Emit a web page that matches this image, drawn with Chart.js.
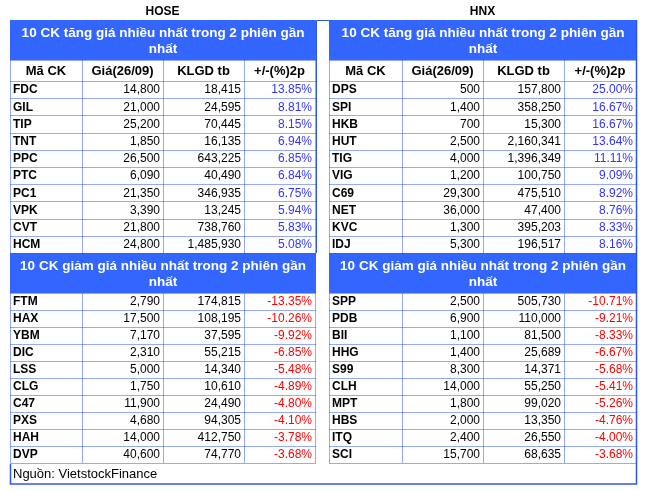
<!DOCTYPE html>
<html>
<head>
<meta charset="utf-8">
<script src="https://cdn.jsdelivr.net/npm/chart.js@4.4.1/dist/chart.umd.min.js"></script>
<style>
    html, body { margin: 0; padding: 0; background: #fff; }
    #khung { width: 646px; height: 490px; }
</style>
</head>
<body>
<div id="khung"><canvas id="bangCK" width="646" height="490"></canvas></div>
<script>
// ---- Dữ liệu ----
const SAN = ['HOSE', 'HNX'];
const CAC_COT = ['Mã CK', 'Giá(26/09)', 'KLGD tb', '+/-(%)2p'];
const TIEU_DE_TANG = '10 CK tăng giá nhiều nhất trong 2 phiên gần nhất';
const TIEU_DE_GIAM = '10 CK giảm giá nhiều nhất trong 2 phiên gần nhất';
const NGUON = 'Nguồn: VietstockFinance';

const hoseTangMa = ['FDC', 'GIL', 'TIP', 'TNT', 'PPC', 'PTC', 'PC1', 'VPK', 'CVT', 'HCM'];
const hoseTangGia = [14800, 21000, 25200, 1850, 26500, 6090, 21350, 3390, 21800, 24800];
const hoseTangKL = [18415, 24595, 70445, 16135, 643225, 40490, 346935, 13245, 738760, 1485930];
const hoseTangPct = [13.85, 8.81, 8.15, 6.94, 6.85, 6.84, 6.75, 5.94, 5.83, 5.08];

const hnxTangMa = ['DPS', 'SPI', 'HKB', 'HUT', 'TIG', 'VIG', 'C69', 'NET', 'KVC', 'IDJ'];
const hnxTangGia = [500, 1400, 700, 2500, 4000, 1200, 29300, 36000, 1300, 5300];
const hnxTangKL = [157800, 358250, 15300, 2160341, 1396349, 100750, 475510, 47400, 395203, 196517];
const hnxTangPct = [25.00, 16.67, 16.67, 13.64, 11.11, 9.09, 8.92, 8.76, 8.33, 8.16];

const hoseGiamMa = ['FTM', 'HAX', 'YBM', 'DIC', 'LSS', 'CLG', 'C47', 'PXS', 'HAH', 'DVP'];
const hoseGiamGia = [2790, 17500, 7170, 2310, 5000, 1750, 11900, 4680, 14000, 40600];
const hoseGiamKL = [174815, 108195, 37595, 55215, 14340, 10610, 24490, 94305, 412750, 74770];
const hoseGiamPct = [-13.35, -10.26, -9.92, -6.85, -5.48, -4.89, -4.80, -4.10, -3.78, -3.68];

const hnxGiamMa = ['SPP', 'PDB', 'BII', 'HHG', 'S99', 'CLH', 'MPT', 'HBS', 'ITQ', 'SCI'];
const hnxGiamGia = [2500, 6900, 1100, 1400, 8300, 14000, 1800, 2000, 2400, 15700];
const hnxGiamKL = [505730, 110000, 81500, 25689, 14371, 55250, 99020, 13350, 26550, 68635];
const hnxGiamPct = [-10.71, -9.21, -8.33, -6.67, -5.68, -5.41, -5.26, -4.76, -4.00, -3.68];

// ---- Bố cục (đơn vị của trục) ----
const COT_TRAI = [10, 82, 163, 244, 315];
const COT_PHAI = [329, 402, 483, 564, 636];
const TANG_Y = { tieuDe: 20, cot: 60, dong: 81, cao: 17.2 };
const GIAM_Y = { tieuDe: 253, dong: 293, cao: 17 };
const CAO_TIEU_DE = 40;
const DAY = 484;

const XANH = '#3366ff';
const VIEN = '#2f55f0';

function soDep(v) {
    return v.toLocaleString('en-US');
}

function ngatDong(ctx, text, maxW) {
    const tu = text.split(' ');
    const dong = [];
    let hienTai = '';
    tu.forEach(t => {
        const thu = hienTai ? hienTai + ' ' + t : t;
        if (ctx.measureText(thu).width > maxW && hienTai) {
            dong.push(hienTai);
            hienTai = t;
        } else {
            hienTai = thu;
        }
    });
    dong.push(hienTai);
    return dong;
}

function netCham(ctx, x1, y1, x2, y2) {
    ctx.beginPath();
    ctx.moveTo(Math.round(x1) + 0.5, Math.round(y1) + 0.5);
    ctx.lineTo(Math.round(x2) + 0.5, Math.round(y2) + 0.5);
    ctx.stroke();
}

const veBang = {
    id: 'veBang',
    afterDraw(chart) {
        const ctx = chart.ctx;
        const sx = chart.scales.x;
        const sy = chart.scales.y;
        const X = v => sx.getPixelForValue(v);
        const Y = v => sy.getPixelForValue(v);

        ctx.save();
        ctx.fillStyle = '#fff';
        ctx.fillRect(0, 0, chart.width, chart.height);

        const bang = [
            { cot: COT_TRAI, san: SAN[0], tang: [hoseTangMa, hoseTangGia, hoseTangKL, hoseTangPct], giam: [hoseGiamMa, hoseGiamGia, hoseGiamKL, hoseGiamPct] },
            { cot: COT_PHAI, san: SAN[1], tang: [hnxTangMa, hnxTangGia, hnxTangKL, hnxTangPct], giam: [hnxGiamMa, hnxGiamGia, hnxGiamKL, hnxGiamPct] }
        ];

        bang.forEach(b => {
            const c = b.cot;
            const trai = X(c[0]), phai = X(c[4]) + 1;

            // tên sàn
            ctx.fillStyle = '#000';
            ctx.font = 'bold 12px "Liberation Sans", Arial, sans-serif';
            ctx.textAlign = 'center';
            ctx.textBaseline = 'middle';
            ctx.fillText(b.san, (X(c[0]) + X(c[4])) / 2, Y(12));

            // thanh tiêu đề xanh
            [[TIEU_DE_TANG, TANG_Y.tieuDe], [TIEU_DE_GIAM, GIAM_Y.tieuDe]].forEach(([tieuDe, y0]) => {
                ctx.fillStyle = XANH;
                ctx.fillRect(trai, Y(y0), phai - trai, Y(y0 + CAO_TIEU_DE) - Y(y0));
                ctx.fillStyle = '#fff';
                ctx.font = 'bold 13.5px "Liberation Sans", Arial, sans-serif';
                const dong = ngatDong(ctx, tieuDe, phai - trai - 16);
                dong.forEach((d, i) => {
                    ctx.fillText(d, (trai + phai) / 2, Y(y0 + 13 + i * 16));
                });
            });

            // hàng tên cột
            ctx.fillStyle = '#000';
            ctx.font = 'bold 13px "Liberation Sans", Arial, sans-serif';
            CAC_COT.forEach((ten, j) => {
                ctx.fillText(ten, (X(c[j]) + X(c[j + 1])) / 2, Y((TANG_Y.cot + TANG_Y.dong) / 2 + 1));
            });

            // các dòng dữ liệu
            const veDong = (cols, y0, cao) => {
                cols[0].forEach((ma, i) => {
                    const yc = Y(y0 + cao * (i + 0.5) + 0.5);
                    ctx.textAlign = 'left';
                    ctx.fillStyle = '#000';
                    ctx.font = 'bold 12px "Liberation Sans", Arial, sans-serif';
                    ctx.fillText(ma, X(c[0]) + 3, yc);
                    ctx.textAlign = 'right';
                    ctx.font = '12px "Liberation Sans", Arial, sans-serif';
                    ctx.fillText(soDep(cols[1][i]), X(c[2]) - 3, yc);
                    ctx.fillText(soDep(cols[2][i]), X(c[3]) - 3, yc);
                    const p = cols[3][i];
                    ctx.fillStyle = p < 0 ? '#ff0000' : '#3333ff';
                    ctx.fillText(p.toFixed(2) + '%', X(c[4]) - 3, yc);
                });
            };
            veDong(b.tang, TANG_Y.dong, TANG_Y.cao);
            veDong(b.giam, GIAM_Y.dong, GIAM_Y.cao);

            // lưới chấm
            ctx.strokeStyle = VIEN;
            ctx.lineWidth = 1;
            ctx.setLineDash([1, 1]);
            const yTangCuoi = TANG_Y.dong + TANG_Y.cao * 10;
            const yGiamCuoi = GIAM_Y.dong + GIAM_Y.cao * 10;
            c.forEach(xc => {
                netCham(ctx, X(xc), Y(TANG_Y.cot), X(xc), Y(GIAM_Y.tieuDe));
                netCham(ctx, X(xc), Y(GIAM_Y.dong), X(xc), Y(yGiamCuoi));
            });
            for (let i = 0; i <= 10; i++) {
                netCham(ctx, X(c[0]), Y(TANG_Y.dong + TANG_Y.cao * i), X(c[4]), Y(TANG_Y.dong + TANG_Y.cao * i));
                netCham(ctx, X(c[0]), Y(GIAM_Y.dong + GIAM_Y.cao * i), X(c[4]), Y(GIAM_Y.dong + GIAM_Y.cao * i));
            }
            netCham(ctx, X(c[0]), Y(TANG_Y.cot), X(c[4]), Y(TANG_Y.cot));
            ctx.setLineDash([]);
        });

        // nguồn
        ctx.fillStyle = '#000';
        ctx.textAlign = 'left';
        ctx.font = '13px "Liberation Sans", Arial, sans-serif';
        ctx.fillText(NGUON, X(13), Y(474));

        // khung ngoài
        ctx.strokeStyle = VIEN;
        ctx.lineWidth = 1.5;
        ctx.beginPath();
        ctx.moveTo(X(10) + 0.5, Y(464));
        ctx.lineTo(X(10) + 0.5, Y(DAY));
        ctx.lineTo(X(636) + 0.5, Y(DAY));
        ctx.lineTo(X(636) + 0.5, Y(20));
        ctx.stroke();
        ctx.lineWidth = 1;
        ctx.beginPath();
        ctx.moveTo(X(316) + 0.5, Y(253));
        ctx.lineTo(X(316) + 0.5, Y(20) + 0.5);
        ctx.lineTo(X(329) + 0.5, Y(20) + 0.5);
        ctx.stroke();
        ctx.restore();
    }
};

new Chart(document.getElementById('bangCK'), {
    type: 'scatter',
    data: { datasets: [] },
    options: {
        responsive: false,
        animation: false,
        devicePixelRatio: 1,
        events: [],
        layout: { padding: 0 },
        plugins: { legend: { display: false }, tooltip: { enabled: false } },
        scales: {
            x: { type: 'linear', min: 0, max: 646, display: false },
            y: { type: 'linear', min: 0, max: 490, reverse: true, display: false }
        }
    },
    plugins: [veBang]
});
</script>
</body>
</html>
